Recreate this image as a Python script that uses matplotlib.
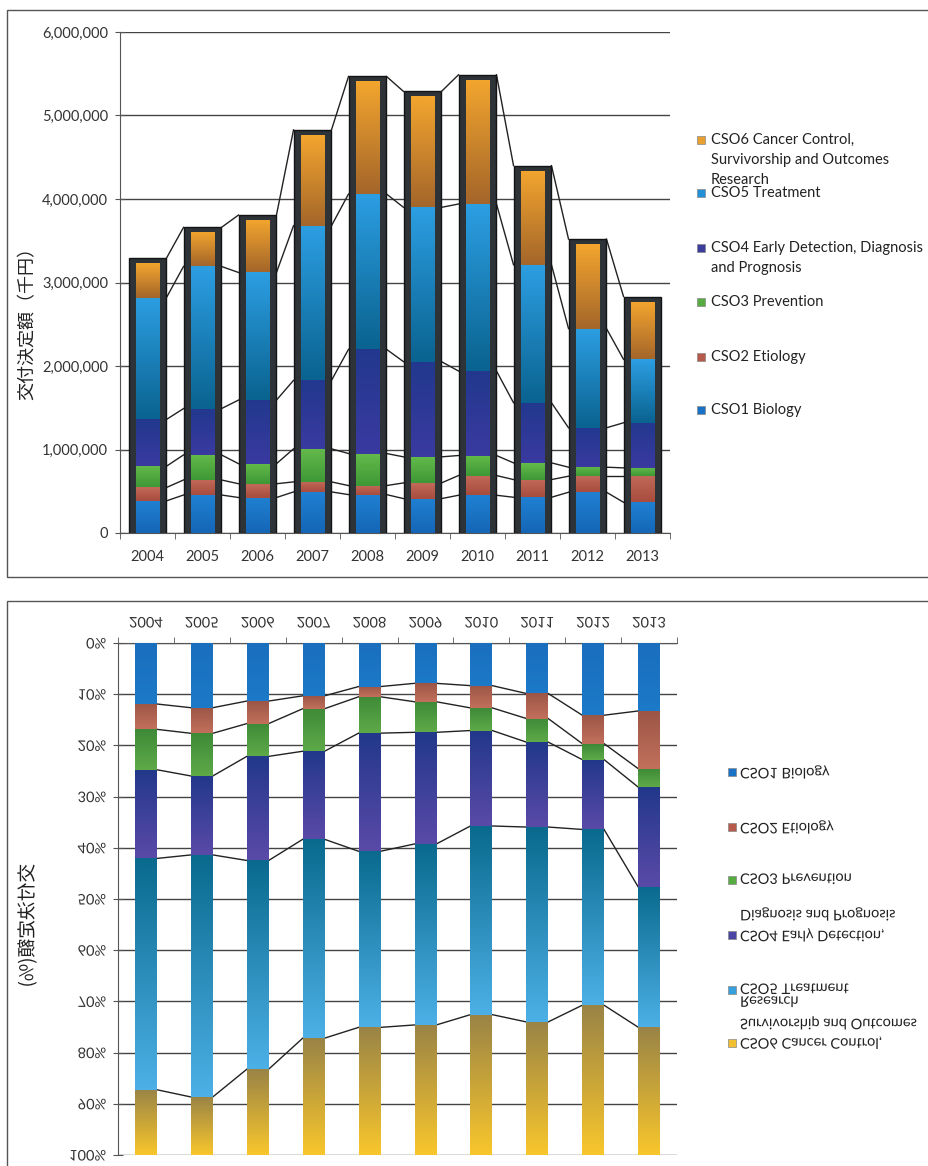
import numpy as np
import matplotlib
matplotlib.use("Agg")
import matplotlib.pyplot as plt
from matplotlib.colors import LinearSegmentedColormap
from matplotlib.patches import Rectangle
from matplotlib.patheffects import AbstractPathEffect
from matplotlib.transforms import Affine2D
from matplotlib.ticker import FixedLocator, MultipleLocator, FuncFormatter

plt.rcParams['font.family'] = ['Lato', 'Noto Sans CJK JP', 'DejaVu Sans']

W, H = 929, 1166

# 交付決定額 (千円) by common scientific outline category
years = ['2004', '2005', '2006', '2007', '2008', '2009', '2010', '2011', '2012', '2013']
cso1 = [385000, 455000, 425000, 492000, 460000, 412000, 452000, 428000, 488000, 368000]
cso2 = [160000, 180000, 165000, 120000, 108000, 188000, 236000, 212000, 192000, 312000]
cso3 = [255000, 300000, 240000, 396000, 384000, 312000, 240000, 200000, 108000, 100000]
cso4 = [560000, 555000, 762000, 820000, 1248000, 1140000, 1012000, 720000, 472000, 540000]
cso5 = [1460000, 1702000, 1528000, 1852000, 1860000, 1848000, 2000000, 1652000, 1188000, 760000]
cso6 = [412000, 408000, 628000, 1088000, 1348000, 1328000, 1488000, 1128000, 1012000, 692000]

series = [cso1, cso2, cso3, cso4, cso5, cso6]

top_legend = [
    ['CSO6 Cancer Control,', 'Survivorship and Outcomes', 'Research'],
    ['CSO5 Treatment'],
    ['CSO4 Early Detection, Diagnosis', 'and Prognosis'],
    ['CSO3 Prevention'],
    ['CSO2 Etiology'],
    ['CSO1 Biology'],
]
bottom_legend = [
    ['CSO1 Biology'],
    ['CSO2 Etiology'],
    ['CSO3 Prevention'],
    ['CSO4 Early Detection,', 'Diagnosis and Prognosis'],
    ['CSO5 Treatment', 'Research', 'Survivorship and Outcomes'],
    ['CSO6 Cancer Control,'],
]

# (low end, high end) colours of each segment gradient
top_cols = [('#1566b6', '#2080d2'), ('#a84c3e', '#c26a5a'), ('#3e9836', '#64ba4a'),
            ('#3a3aa0', '#22388e'), ('#0a6390', '#2c9ee2'), ('#a4662a', '#f3a52e')]
bot_cols = [('#1a6ebe', '#1c7ac8'), ('#9c5646', '#c2705c'), ('#3e8a38', '#5eaa48'),
            ('#22388a', '#5a4aa8'), ('#0a6a8e', '#4cb0e6'), ('#9a8446', '#f8c62c')]
legend_top_cols = ['#e8a030', '#2290d8', '#3c3c9c', '#56ac40', '#b85a4a', '#1a72c6']
legend_bot_cols = ['#1a72c6', '#b85a4a', '#56ac40', '#4a44a4', '#36a0dc', '#f0c030']


class Mirror(AbstractPathEffect):
    """Draw text upside down (mirrored about its own horizontal centre line)."""
    def draw_path(self, renderer, gc, tpath, affine, rgbFace=None):
        ext = tpath.get_extents(affine)
        yc = (ext.y0 + ext.y1) / 2
        flip = affine + Affine2D().translate(0, -yc).scale(1, -1).translate(0, yc)
        renderer.draw_path(gc, tpath, flip, rgbFace)


def px(x, y):
    return x / W, 1 - y / H


def grad_bar(ax, x, bottom, height, width, c_lo, c_hi, z):
    p = ax.bar(x, height, width, bottom=bottom, color='none', edgecolor='none', zorder=z)[0]
    cmap = LinearSegmentedColormap.from_list('seg', [c_lo, c_hi])
    img = ax.imshow(np.linspace(0, 1, 64).reshape(-1, 1), cmap=cmap, origin='lower',
                    extent=(x - width / 2, x + width / 2, bottom, bottom + height),
                    aspect='auto', zorder=z, interpolation='bilinear')
    img.set_clip_path(p)


fig = plt.figure(figsize=(W / 100, H / 100), dpi=100)
fig.patch.set_facecolor('white')

# panel borders
fig.add_artist(Rectangle(px(7, 577), 1.0, (577 - 10) / H,
                         transform=fig.transFigure, fill=False, ec='#555555', lw=1))
fig.add_artist(Rectangle(px(7, 1170), 1.0, (1170 - 601) / H,
                         transform=fig.transFigure, fill=False, ec='#555555', lw=1))

x = np.arange(len(years))
data = np.array(series, dtype=float)
cum = np.cumsum(data, axis=0)
totals = cum[-1]

# ---------------- absolute stacked bars ----------------
ax = fig.add_axes([120 / W, 1 - 533 / H, 550 / W, 501 / H])
frame_w = 0.69
inner_w = 0.42
ext = 60000
ax.bar(x, totals + ext, frame_w, color='#2e3337', edgecolor='#121416', lw=1, zorder=2)
for k in range(6):
    bottoms = cum[k] - data[k]
    for i in range(len(x)):
        grad_bar(ax, x[i], bottoms[i], data[k][i], inner_w, top_cols[k][0], top_cols[k][1], 3)
# series lines between neighbouring stacks
for k in range(6):
    lvl = cum[k] + (ext if k == 5 else 0)
    for i in range(len(x) - 1):
        ax.plot([x[i] + frame_w / 2, x[i + 1] - frame_w / 2], [lvl[i], lvl[i + 1]],
                color='#222222', lw=1, zorder=1.5)

ax.set_xlim(-0.5, 9.5)
ax.set_ylim(0, 6000000)
ax.yaxis.set_major_locator(MultipleLocator(1000000))
ax.yaxis.set_major_formatter(FuncFormatter(lambda v, p: f'{v:,.0f}'))
ax.yaxis.grid(True, color='#444444', lw=1)
ax.set_axisbelow(True)
ax.set_xticks(x, years)
ax.xaxis.set_minor_locator(FixedLocator(np.arange(-0.5, 10, 1)))
ax.tick_params(axis='x', which='major', length=0, pad=12, labelsize=10.5, labelcolor='#333333')
ax.tick_params(axis='x', which='minor', length=4, color='#555555', direction='out')
ax.tick_params(axis='y', direction='inout', length=7, color='#555555', pad=5,
               labelsize=10.5, labelcolor='#333333')
for s in ['top', 'right']:
    ax.spines[s].set_visible(False)
for s in ['left', 'bottom']:
    ax.spines[s].set_color('#555555')
ax.set_ylabel('交付決定額（千円）', fontsize=13, color='#222222', family=['Noto Sans CJK JP'])
ax.yaxis.set_label_coords(-0.151, 0.427)

leg_y = [[140, 160, 180], [193], [248, 268], [302], [357], [410]]
for lines, ys, c in zip(top_legend, leg_y, legend_top_cols):
    fig.add_artist(Rectangle(px(697, ys[0] + 4), 8 / W, 8 / H, transform=fig.transFigure,
                             fc=c, ec='#888888', lw=0.5))
    for t, yy in zip(lines, ys):
        fig.text(*px(711, yy), t, fontsize=10.5, color='#222222', va='center', ha='left')

# ---------------- 100% stacked bars, drawn upside down ----------------
ax2 = fig.add_axes([118 / W, 1 - 1155 / H, 559 / W, 512 / H])
pct = data / totals * 100
pcum = np.cumsum(pct, axis=0)
bar_w = 0.39
for k in range(6):
    bottoms = pcum[k] - pct[k]
    for i in range(len(x)):
        grad_bar(ax2, x[i], bottoms[i], pct[k][i], bar_w, bot_cols[k][0], bot_cols[k][1], 3)
for k in range(5):
    for i in range(len(x) - 1):
        ax2.plot([x[i] + bar_w / 2, x[i + 1] - bar_w / 2], [pcum[k][i], pcum[k][i + 1]],
                 color='#222222', lw=1, zorder=2)

ax2.set_xlim(-0.5, 9.5)
ax2.set_ylim(100, 0)
ax2.set_yticks(np.arange(0, 101, 10), [f'{v}%' for v in range(0, 101, 10)])
ax2.yaxis.grid(True, color='#444444', lw=1)
ax2.set_axisbelow(True)
ax2.xaxis.tick_top()
ax2.set_xticks(x, years)
ax2.xaxis.set_minor_locator(FixedLocator(np.arange(-0.5, 10, 1)))
ax2.tick_params(axis='x', which='major', length=0, pad=9, labelsize=10.5, labelcolor='#333333')
ax2.tick_params(axis='x', which='minor', length=4, color='#555555', direction='out')
ax2.tick_params(axis='y', direction='inout', length=7, color='#555555', pad=5,
                labelsize=10.5, labelcolor='#333333')
for s in ['bottom', 'right']:
    ax2.spines[s].set_visible(False)
for s in ['left', 'top']:
    ax2.spines[s].set_color('#555555')
ax2.set_ylabel('交付決定額(%)', fontsize=13.5, color='#222222', family=['Noto Sans CJK JP'])
ax2.yaxis.set_label_coords(-0.143, 0.45)
ax2.yaxis.label.set_path_effects([Mirror()])
for t in ax2.get_xticklabels() + ax2.get_yticklabels():
    t.set_path_effects([Mirror()])

leg_y2 = [[772], [827], [880], [935, 914], [990, 1003, 1023], [1043]]
for lines, ys, c in zip(bottom_legend, leg_y2, legend_bot_cols):
    fig.add_artist(Rectangle(px(728, ys[0] + 4), 8 / W, 8 / H, transform=fig.transFigure,
                             fc=c, ec='#888888', lw=0.5))
    for t, yy in zip(lines, ys):
        fig.text(*px(740, yy), t, fontsize=10.5, color='#222222', va='center', ha='left',
                 path_effects=[Mirror()])

fig.savefig('out.png', dpi=100, facecolor='white')
